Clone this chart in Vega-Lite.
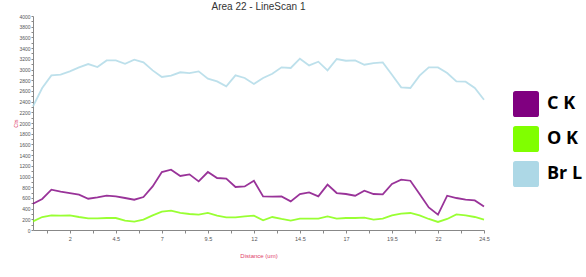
{
 "$schema": "https://vega.github.io/schema/vega-lite/v6.json",
 "width": 451,
 "height": 214,
 "autosize": {"type": "none"},
 "padding": {"left": 33, "top": 16, "right": 102, "bottom": 47},
 "background": "white",
 "config": {"view": {"stroke": null}},
 "title": {"text": "Area 22 - LineScan 1", "fontSize": 10, "font": "Liberation Sans", "fontWeight": "normal", "color": "#333333", "offset": 2, "anchor": "middle"},
 "data": {"values": [
  {"d": 0, "C K": 490, "O K": 161, "Br L": 2310},
  {"d": 0.5, "C K": 580, "O K": 243, "Br L": 2654},
  {"d": 1, "C K": 753, "O K": 273, "Br L": 2890},
  {"d": 1.5, "C K": 716, "O K": 267, "Br L": 2903},
  {"d": 2, "C K": 691, "O K": 273, "Br L": 2965},
  {"d": 2.5, "C K": 660, "O K": 243, "Br L": 3040},
  {"d": 3, "C K": 585, "O K": 217, "Br L": 3102},
  {"d": 3.5, "C K": 610, "O K": 217, "Br L": 3046},
  {"d": 4, "C K": 641, "O K": 224, "Br L": 3170},
  {"d": 4.5, "C K": 628, "O K": 224, "Br L": 3170},
  {"d": 5, "C K": 598, "O K": 174, "Br L": 3108},
  {"d": 5.5, "C K": 566, "O K": 155, "Br L": 3183},
  {"d": 6, "C K": 617, "O K": 193, "Br L": 3133},
  {"d": 6.5, "C K": 815, "O K": 273, "Br L": 2983},
  {"d": 7, "C K": 1084, "O K": 342, "Br L": 2860},
  {"d": 7.5, "C K": 1127, "O K": 361, "Br L": 2884},
  {"d": 8, "C K": 1010, "O K": 318, "Br L": 2948},
  {"d": 8.5, "C K": 1040, "O K": 299, "Br L": 2934},
  {"d": 9, "C K": 908, "O K": 286, "Br L": 2965},
  {"d": 9.5, "C K": 1084, "O K": 318, "Br L": 2828},
  {"d": 10, "C K": 972, "O K": 267, "Br L": 2778},
  {"d": 10.5, "C K": 959, "O K": 236, "Br L": 2684},
  {"d": 11, "C K": 804, "O K": 236, "Br L": 2890},
  {"d": 11.5, "C K": 815, "O K": 254, "Br L": 2841},
  {"d": 12, "C K": 921, "O K": 267, "Br L": 2729},
  {"d": 12.5, "C K": 628, "O K": 180, "Br L": 2841},
  {"d": 13, "C K": 622, "O K": 243, "Br L": 2921},
  {"d": 13.5, "C K": 628, "O K": 206, "Br L": 3040},
  {"d": 14, "C K": 535, "O K": 174, "Br L": 3028},
  {"d": 14.5, "C K": 673, "O K": 211, "Br L": 3202},
  {"d": 15, "C K": 703, "O K": 211, "Br L": 3077},
  {"d": 15.5, "C K": 628, "O K": 211, "Br L": 3146},
  {"d": 16, "C K": 847, "O K": 254, "Br L": 2983},
  {"d": 16.5, "C K": 691, "O K": 211, "Br L": 3196},
  {"d": 17, "C K": 673, "O K": 224, "Br L": 3164},
  {"d": 17.5, "C K": 641, "O K": 224, "Br L": 3170},
  {"d": 18, "C K": 734, "O K": 230, "Br L": 3089},
  {"d": 18.5, "C K": 673, "O K": 193, "Br L": 3121},
  {"d": 19, "C K": 666, "O K": 211, "Br L": 3133},
  {"d": 19.5, "C K": 860, "O K": 273, "Br L": 2903},
  {"d": 20, "C K": 940, "O K": 305, "Br L": 2666},
  {"d": 20.5, "C K": 921, "O K": 318, "Br L": 2654},
  {"d": 21, "C K": 673, "O K": 273, "Br L": 2884},
  {"d": 21.5, "C K": 422, "O K": 206, "Br L": 3040},
  {"d": 22, "C K": 286, "O K": 150, "Br L": 3040},
  {"d": 22.5, "C K": 641, "O K": 206, "Br L": 2934},
  {"d": 23, "C K": 598, "O K": 292, "Br L": 2778},
  {"d": 23.5, "C K": 566, "O K": 273, "Br L": 2772},
  {"d": 24, "C K": 553, "O K": 243, "Br L": 2654},
  {"d": 24.5, "C K": 441, "O K": 193, "Br L": 2435}
 ]},
 "transform": [{"fold": ["C K", "O K", "Br L"], "as": ["el", "v"]}],
 "mark": {"type": "line", "strokeWidth": 1.8, "strokeOpacity": 0.8},
 "encoding": {
  "x": {
   "field": "d", "type": "quantitative",
   "scale": {"domain": [0, 24.5], "nice": false, "zero": false},
   "axis": {
    "values": [0.75, 2, 3.25, 4.5, 5.75, 7, 8.25, 9.5, 10.75, 12, 13.25, 14.5, 15.75, 17, 18.25, 19.5, 20.75, 22, 23.25, 24.5],
    "labelExpr": "(datum.value - 2) % 2.5 == 0 ? '' + datum.value : ''",
    "labelOverlap": false, "labelFlush": false,
    "labelFontSize": 5.5, "labelColor": "#555555", "labelFont": "Liberation Sans", "labelPadding": 3,
    "tickSize": 3, "tickColor": "#888888", "domainColor": "#888888", "grid": false,
    "title": "Distance (um)", "titleFontSize": 6, "titleFontWeight": "normal", "titleColor": "#e0406a", "titleFont": "Liberation Sans",
    "titleY": 22
   }
  },
  "y": {
   "field": "v", "type": "quantitative",
   "scale": {"domain": [0, 4000], "nice": false},
   "axis": {
    "values": [0,100,200,300,400,500,600,700,800,900,1000,1100,1200,1300,1400,1500,1600,1700,1800,1900,2000,2100,2200,2300,2400,2500,2600,2700,2800,2900,3000,3100,3200,3300,3400,3500,3600,3700,3800,3900,4000],
    "format": "d",
    "labelExpr": "datum.value % 200 == 0 ? datum.label : ''",
    "labelOverlap": false, "labelFlush": false,
    "labelFontSize": 5, "labelColor": "#555555", "labelFont": "Liberation Sans", "labelPadding": 1,
    "tickSize": 2, "tickColor": "#888888", "domainColor": "#888888", "grid": false,
    "title": "Cts", "titleFontSize": 5.5, "titleFontWeight": "normal", "titleColor": "#e0406a", "titleFont": "Liberation Sans",
    "titleX": -15, "titleY": 107
   }
  },
  "color": {
   "field": "el", "type": "nominal",
   "scale": {"domain": ["C K", "O K", "Br L"], "range": ["#800080", "#80FF00", "#ADD8E6"]},
   "legend": {
    "orient": "none", "legendX": 480, "legendY": 75, "title": null, "padding": 0,
    "symbolType": "M-0.8,-1H0.8Q1,-1 1,-0.8V0.8Q1,1 0.8,1H-0.8Q-1,1 -1,0.8V-0.8Q-1,-1 -0.8,-1Z",
    "symbolSize": 676, "labelFontSize": 18, "labelFontWeight": "bold", "labelFont": "Open Sans", "labelColor": "#000000",
    "labelOffset": 8, "rowPadding": 9,
    "encode": {"symbols": {"update": {"fill": {"scale": "color", "field": "value"}, "strokeWidth": {"value": 0}, "opacity": {"value": 1}}}}
   }
  }
 }
}
